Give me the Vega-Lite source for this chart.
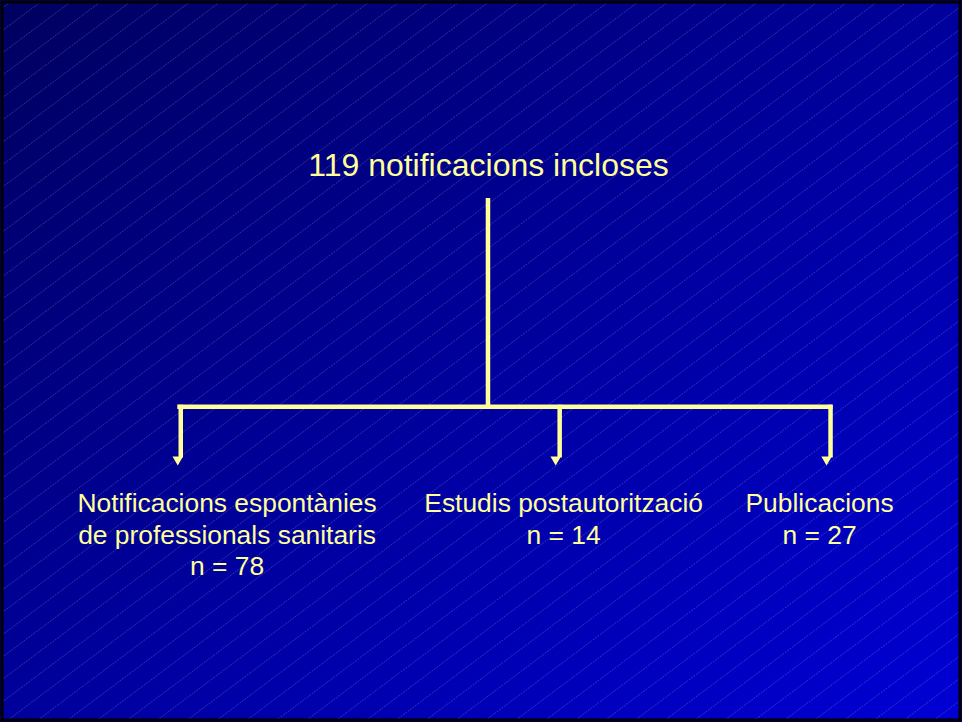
{
  "$schema": "https://vega.github.io/schema/vega-lite/v6.json",
  "width": 962,
  "height": 722,
  "padding": 0,
  "autosize": {"type": "fit", "contains": "padding"},
  "background": "#000080",
  "config": {"view": {"stroke": null}},
  "datasets": {
    "frame": [{"x": 0, "y": 0, "x2": 962, "y2": 722}],
    "hatch": [
      {"a": 6.5, "b": -715}, {"a": 29, "b": -692.5}, {"a": 51.5, "b": -670}, {"a": 74, "b": -647.5},
      {"a": 96.5, "b": -625}, {"a": 119, "b": -602.5}, {"a": 141.5, "b": -580}, {"a": 164, "b": -557.5},
      {"a": 186.5, "b": -535}, {"a": 209, "b": -512.5}, {"a": 231.5, "b": -490}, {"a": 254, "b": -467.5},
      {"a": 276.5, "b": -445}, {"a": 299, "b": -422.5}, {"a": 321.5, "b": -400}, {"a": 344, "b": -377.5},
      {"a": 366.5, "b": -355}, {"a": 389, "b": -332.5}, {"a": 411.5, "b": -310}, {"a": 434, "b": -287.5},
      {"a": 456.5, "b": -265}, {"a": 479, "b": -242.5}, {"a": 501.5, "b": -220}, {"a": 524, "b": -197.5},
      {"a": 546.5, "b": -175}, {"a": 569, "b": -152.5}, {"a": 591.5, "b": -130}, {"a": 614, "b": -107.5},
      {"a": 636.5, "b": -85}, {"a": 659, "b": -62.5}, {"a": 681.5, "b": -40}, {"a": 704, "b": -17.5},
      {"a": 726.5, "b": 5}, {"a": 749, "b": 27.5}, {"a": 771.5, "b": 50}, {"a": 794, "b": 72.5},
      {"a": 816.5, "b": 95}, {"a": 839, "b": 117.5}, {"a": 861.5, "b": 140}, {"a": 884, "b": 162.5},
      {"a": 906.5, "b": 185}, {"a": 929, "b": 207.5}, {"a": 951.5, "b": 230}, {"a": 974, "b": 252.5},
      {"a": 996.5, "b": 275}, {"a": 1019, "b": 297.5}, {"a": 1041.5, "b": 320}, {"a": 1064, "b": 342.5},
      {"a": 1086.5, "b": 365}, {"a": 1109, "b": 387.5}, {"a": 1131.5, "b": 410}, {"a": 1154, "b": 432.5},
      {"a": 1176.5, "b": 455}, {"a": 1199, "b": 477.5}, {"a": 1221.5, "b": 500}, {"a": 1244, "b": 522.5},
      {"a": 1266.5, "b": 545}, {"a": 1289, "b": 567.5}, {"a": 1311.5, "b": 590}, {"a": 1334, "b": 612.5},
      {"a": 1356.5, "b": 635}, {"a": 1379, "b": 657.5}, {"a": 1401.5, "b": 680}, {"a": 1424, "b": 702.5},
      {"a": 1446.5, "b": 725}
    ],
    "links": [
      {"x": 488, "y": 197, "x2": 488, "y2": 407},
      {"x": 176, "y": 407, "x2": 834, "y2": 407},
      {"x": 179.5, "y": 405, "x2": 179.5, "y2": 458},
      {"x": 560, "y": 405, "x2": 560, "y2": 458},
      {"x": 832, "y": 405, "x2": 832, "y2": 458}
    ],
    "heads": [
      {"x": 176.5, "y": 461.5},
      {"x": 556, "y": 461.5},
      {"x": 828, "y": 461.5}
    ],
    "title": [{"x": 488.5, "y": 175, "t": "119 notificacions incloses"}],
    "labels": [
      {"x": 226, "y": 513, "t": "Notificacions espontànies\nde professionals sanitaris\nn = 78"},
      {"x": 564, "y": 513, "t": "Estudis postautorització\nn = 14"},
      {"x": 821, "y": 513, "t": "Publicacions\nn = 27"}
    ]
  },
  "layer": [
    {
      "data": {"name": "frame"},
      "mark": {
        "type": "rect",
        "color": {
          "gradient": "linear",
          "x1": 0, "y1": 0, "x2": 1, "y2": 1,
          "stops": [
            {"offset": 0, "color": "#000060"},
            {"offset": 0.5, "color": "#00009C"},
            {"offset": 1, "color": "#0000D4"}
          ]
        }
      },
      "encoding": {
        "x": {"field": "x", "type": "quantitative", "axis": null, "scale": {"domain": [0, 962], "nice": false, "zero": false}},
        "x2": {"field": "x2"},
        "y": {"field": "y", "type": "quantitative", "axis": null, "scale": {"domain": [0, 722], "reverse": true, "nice": false, "zero": false}},
        "y2": {"field": "y2"}
      }
    },
    {
      "data": {"name": "hatch"},
      "mark": {"type": "rule", "clip": true, "color": "#FFFFFF", "opacity": 0.2, "strokeWidth": 1, "strokeDash": [2, 1]},
      "encoding": {
        "x": {"datum": 0, "type": "quantitative", "scale": {"domain": [0, 962], "nice": false, "zero": false}},
        "x2": {"datum": 962},
        "y": {"field": "a", "type": "quantitative", "scale": {"domain": [0, 722], "reverse": true, "nice": false, "zero": false}},
        "y2": {"field": "b"}
      }
    },
    {
      "data": {"name": "links"},
      "mark": {"type": "rule", "color": "#FFFF99", "strokeWidth": 4.5, "strokeCap": "butt"},
      "encoding": {
        "x": {"field": "x", "type": "quantitative", "scale": {"domain": [0, 962], "nice": false, "zero": false}},
        "x2": {"field": "x2"},
        "y": {"field": "y", "type": "quantitative", "scale": {"domain": [0, 722], "reverse": true, "nice": false, "zero": false}},
        "y2": {"field": "y2"}
      }
    },
    {
      "data": {"name": "heads"},
      "mark": {"type": "point", "shape": "triangle-down", "filled": true, "color": "#FFFF99", "opacity": 1, "size": 110},
      "encoding": {
        "x": {"field": "x", "type": "quantitative", "scale": {"domain": [0, 962], "nice": false, "zero": false}},
        "y": {"field": "y", "type": "quantitative", "scale": {"domain": [0, 722], "reverse": true, "nice": false, "zero": false}}
      }
    },
    {
      "data": {"name": "title"},
      "mark": {"type": "text", "font": "Liberation Sans", "fontSize": 32, "color": "#FFFF99", "align": "center", "baseline": "alphabetic"},
      "encoding": {
        "x": {"field": "x", "type": "quantitative", "scale": {"domain": [0, 962], "nice": false, "zero": false}},
        "y": {"field": "y", "type": "quantitative", "scale": {"domain": [0, 722], "reverse": true, "nice": false, "zero": false}},
        "text": {"field": "t", "type": "nominal"}
      }
    },
    {
      "data": {"name": "labels"},
      "mark": {"type": "text", "font": "Liberation Sans", "fontSize": 26.4, "color": "#FFFF99", "align": "center", "baseline": "alphabetic", "lineBreak": "\n", "lineHeight": 31.5},
      "encoding": {
        "x": {"field": "x", "type": "quantitative", "scale": {"domain": [0, 962], "nice": false, "zero": false}},
        "y": {"field": "y", "type": "quantitative", "scale": {"domain": [0, 722], "reverse": true, "nice": false, "zero": false}},
        "text": {"field": "t", "type": "nominal"}
      }
    },
    {
      "data": {"name": "frame"},
      "mark": {"type": "rect", "fill": null, "fillOpacity": 0, "stroke": "#000000", "strokeWidth": 3},
      "encoding": {
        "x": {"field": "x", "type": "quantitative", "scale": {"domain": [0, 962], "nice": false, "zero": false}},
        "x2": {"field": "x2"},
        "y": {"field": "y", "type": "quantitative", "scale": {"domain": [0, 722], "reverse": true, "nice": false, "zero": false}},
        "y2": {"field": "y2"}
      }
    }
  ]
}
